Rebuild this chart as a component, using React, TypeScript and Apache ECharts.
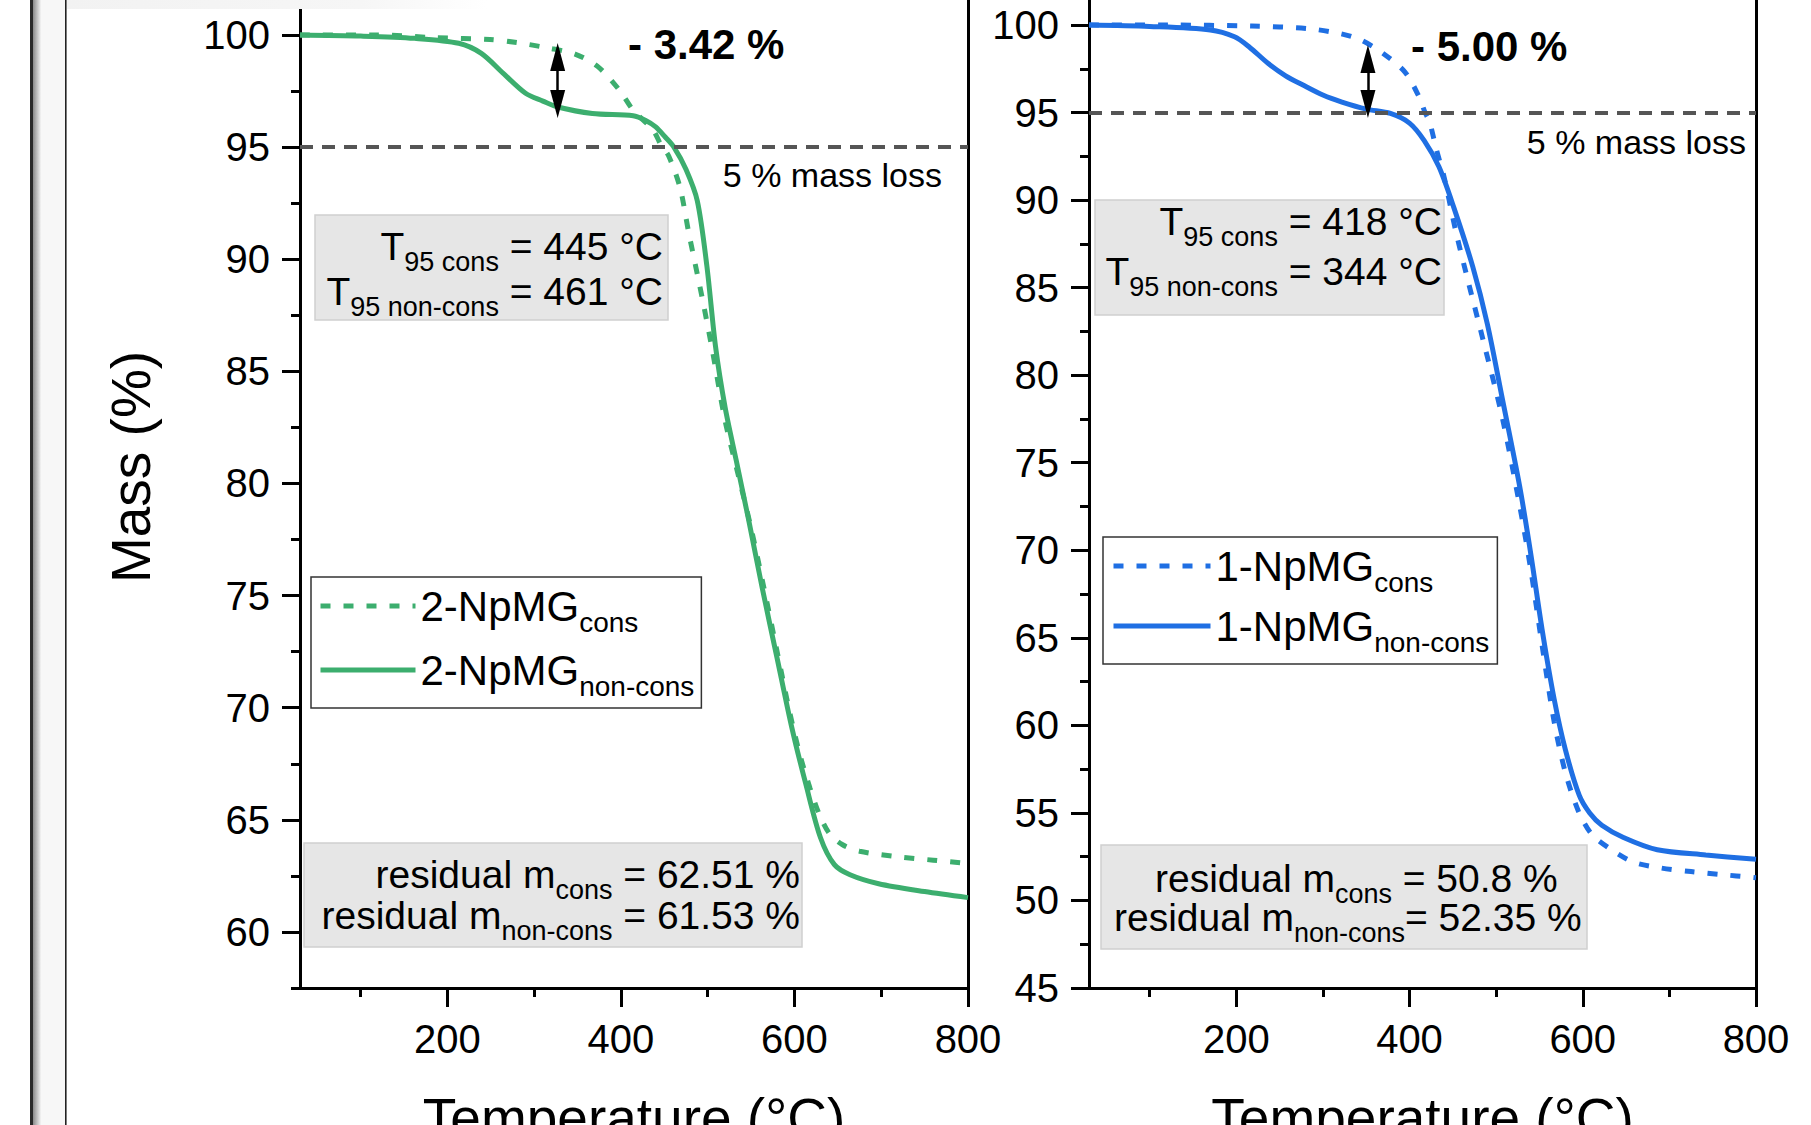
import React, { useEffect, useRef } from 'react';
import * as echarts from 'echarts';

const FONT = '"Liberation Sans", Arial, Helvetica, sans-serif';
const GREEN = '#3cae6e';
const BLUE = '#1f6fe3';

// ---- axes ----
const tempMin = 30;
const tempMax = 800;
const tempMajorTicks = [200, 400, 600, 800];
const tempMinorTicks = [100, 300, 500, 700];
const massLeftMin = 57.5;
const massLeftMax = 101.56;
const massLeftMajorTicks = [60, 65, 70, 75, 80, 85, 90, 95, 100];
const massLeftMinorTicks = [57.5, 62.5, 67.5, 72.5, 77.5, 82.5, 87.5, 92.5, 97.5];
const massRightMin = 45;
const massRightMax = 101.43;
const massRightMajorTicks = [45, 50, 55, 60, 65, 70, 75, 80, 85, 90, 95, 100];
const massRightMinorTicks = [47.5, 52.5, 57.5, 62.5, 67.5, 72.5, 77.5, 82.5, 87.5, 92.5, 97.5];
const massLossLevel = 95;

// ---- series: [temperature °C, mass %] ----
const npmg2Cons = [
  [30, 100.0], [118, 100.0], [187, 99.88], [249, 99.8], [280, 99.66], [316, 99.42], [347, 99.15],
  [373, 98.6], [398, 97.55], [414, 96.65], [437, 95.76], [446, 95.1], [455, 94.6], [468, 93.2],
  [478, 91.2], [494, 88.2], [505, 86.0], [520, 82.8], [535, 80.4], [550, 78.0], [565, 75.3],
  [580, 72.5], [595, 69.7], [607, 67.8], [618, 66.4], [628, 65.3], [640, 64.4], [655, 63.9],
  [675, 63.6], [720, 63.35], [760, 63.2], [800, 63.05],
];
const npmg2NonCons = [
  [30, 100.0], [100, 99.95], [162, 99.85], [213, 99.63], [239, 99.18], [264, 98.3], [290, 97.4],
  [310, 97.05], [326, 96.8], [367, 96.5], [414, 96.4], [428, 96.2], [440, 95.9], [451, 95.45],
  [461, 95.0], [475, 94.0], [488, 92.6], [499, 89.7], [509, 86.1], [520, 83.4], [533, 81.0],
  [547, 78.4], [563, 75.3], [580, 72.2], [597, 69.1], [613, 66.6], [630, 64.2], [646, 63.0],
  [664, 62.55], [697, 62.15], [750, 61.8], [800, 61.53],
];
const npmg1Cons = [
  [30, 100.0], [120, 100.0], [218, 99.94], [282, 99.8], [321, 99.5], [344, 99.14], [369, 98.4],
  [395, 97.3], [411, 95.9], [418, 95.0], [423, 94.5], [431, 92.9], [440, 91.3], [454, 88.1],
  [468, 85.3], [485, 82.0], [507, 77.6], [527, 72.6], [540, 68.9], [553, 64.6], [567, 60.2],
  [580, 57.3], [595, 55.1], [610, 53.8], [630, 53.0], [658, 52.2], [691, 51.85], [725, 51.65],
  [760, 51.48], [800, 51.3],
];
const npmg1NonCons = [
  [30, 100.0], [100, 99.92], [170, 99.72], [198, 99.33], [215, 98.75], [237, 97.8], [257, 97.1],
  [277, 96.57], [300, 96.0], [322, 95.6], [350, 95.2], [378, 94.95], [400, 94.4], [417, 93.4],
  [434, 91.9], [451, 89.6], [473, 86.2], [490, 82.9], [507, 78.7], [527, 73.7], [540, 69.8],
  [553, 65.5], [567, 61.5], [580, 58.6], [596, 56.0], [608, 55.0], [622, 54.3], [647, 53.6],
  [686, 52.9], [742, 52.6], [800, 52.35],
];

const seriesNames = ['2-NpMG cons', '2-NpMG non-cons', '1-NpMG cons', '1-NpMG non-cons'];

// ---- annotations ----
const diffLeft = { temp: 327, from: 99.02, to: 96.92, label: '- 3.42 %' };
const diffRight = { temp: 352, from: 98.06, to: 95.49, label: '- 5.00 %' };
const massLossLabel = '5 % mass loss';
const t95Left = ['445', '461'];
const t95Right = ['418', '344'];
const residualLeft = ['62.51', '61.53'];
const residualRight = ['50.8', '52.35'];

const NB = '\u00a0';

const axisLineStyle = { color: '#000', width: 3 };

function xAxes(gridIndex: number) {
  return [
    {
      type: 'value', gridIndex, min: tempMin, max: tempMax, position: 'bottom',
      axisLine: { show: true, onZero: false, lineStyle: axisLineStyle },
      axisTick: { show: true, customValues: tempMajorTicks, length: 19, lineStyle: axisLineStyle },
      axisLabel: { show: true, customValues: tempMajorTicks, margin: 31, fontSize: 40, color: '#000', fontFamily: FONT },
      splitLine: { show: false },
      name: 'Temperature (°C)', nameLocation: 'middle', nameGap: 102,
      nameTextStyle: { fontSize: 55, color: '#000', fontFamily: FONT },
    },
    {
      type: 'value', gridIndex, min: tempMin, max: tempMax, position: 'bottom',
      axisLine: { show: false, onZero: false },
      axisTick: { show: true, customValues: tempMinorTicks, length: 9, lineStyle: axisLineStyle },
      axisLabel: { show: false },
      splitLine: { show: false },
    },
  ];
}

function yAxes(gridIndex: number, min: number, max: number, major: number[], minor: number[]) {
  return [
    {
      type: 'value', gridIndex, min, max, position: 'left',
      axisLine: { show: true, onZero: false, lineStyle: axisLineStyle },
      axisTick: { show: true, customValues: major, length: 18, lineStyle: axisLineStyle },
      axisLabel: { show: true, customValues: major, margin: 30, fontSize: 40, color: '#000', fontFamily: FONT },
      splitLine: { show: false },
    },
    {
      type: 'value', gridIndex, min, max, position: 'left',
      axisLine: { show: false, onZero: false },
      axisTick: { show: true, customValues: minor, length: 9, lineStyle: axisLineStyle },
      axisLabel: { show: false },
      splitLine: { show: false },
    },
    {
      type: 'value', gridIndex, min, max, position: 'right',
      axisLine: { show: true, onZero: false, lineStyle: axisLineStyle },
      axisTick: { show: false },
      axisLabel: { show: false },
      splitLine: { show: false },
    },
  ];
}

function lineSeries(name: string, data: number[][], color: string, dashed: boolean, xi: number, yi: number, extra: any) {
  return {
    name, type: 'line', xAxisIndex: xi, yAxisIndex: yi, data,
    showSymbol: false, symbol: 'none', smooth: 0.3,
    lineStyle: { color, width: 5, type: dashed ? [10, 13] : 'solid', cap: 'butt' },
    itemStyle: { color },
    emphasis: { disabled: true },
    z: dashed ? 2 : 3,
    ...extra,
  };
}

function massLossLine() {
  return {
    markLine: {
      silent: true, symbol: ['none', 'none'], label: { show: false },
      lineStyle: { color: '#555555', width: 4, type: [13, 9] },
      emphasis: { disabled: true },
      data: [{ yAxis: massLossLevel }],
    },
  };
}

function diffArrow(d: { temp: number; from: number; to: number }) {
  return {
    markLine: {
      silent: true, symbol: ['triangle', 'triangle'], symbolSize: [15, 28], label: { show: false },
      lineStyle: { color: '#000', width: 2.5, type: 'solid' },
      emphasis: { disabled: true },
      data: [[{ coord: [d.temp, d.from] }, { coord: [d.temp, d.to] }]],
    },
  };
}

const legendRich = {
  m: { fontSize: 42, fontFamily: FONT, color: '#000', lineHeight: 44 },
  s: { fontSize: 28, fontFamily: FONT, color: '#000', lineHeight: 12, height: 12, verticalAlign: 'bottom' },
};

function legendFormatter(name: string) {
  const i = name.indexOf(' ');
  return `{m|${name.slice(0, i)}}{s|${name.slice(i + 1)}}`;
}

const BOX_RICH = {
  m: { fontSize: 39, fontFamily: FONT, fill: '#000', lineHeight: 46 },
  s: { fontSize: 27, fontFamily: FONT, fill: '#000', lineHeight: 16, height: 16, verticalAlign: 'bottom' },
};

function richLine(x: number, baseline: number, align: string, text: string) {
  return {
    type: 'text', x, y: baseline - 13.5, z: 20,
    style: {
      text, rich: BOX_RICH, fill: '#000',
      align, verticalAlign: 'middle', textAlign: align, textVerticalAlign: 'middle',
    },
  };
}

function box(x: number, y: number, w: number, h: number) {
  return {
    type: 'rect', z: 15, shape: { x, y, width: w, height: h },
    style: { fill: '#e6e6e6', stroke: '#d0d0d0', lineWidth: 1.5 },
  };
}

function plainText(x: number, y: number, text: string, font: string, align: string) {
  return {
    type: 'text', x, y, z: 20,
    style: { text, font, fill: '#000', align, verticalAlign: 'middle', textAlign: align, textVerticalAlign: 'middle' },
  };
}

const legendCommon = {
  orient: 'vertical', itemHeight: 1,
  borderColor: '#333', borderWidth: 1.5, backgroundColor: '#fff', borderRadius: 0,
  selectedMode: false, formatter: legendFormatter,
  textStyle: { rich: legendRich, color: '#000' },
  lineStyle: { width: 5 },
};

const option: any = {
  animation: false,
  backgroundColor: '#ffffff',
  textStyle: { fontFamily: FONT },
  grid: [
    { left: 300, right: 843, top: 0, bottom: 137, containLabel: false, outerBoundsMode: 'none' },
    { left: 1089, right: 55, top: 0, bottom: 137, containLabel: false, outerBoundsMode: 'none' },
  ],
  xAxis: [...xAxes(0), ...xAxes(1)],
  yAxis: [
    ...yAxes(0, massLeftMin, massLeftMax, massLeftMajorTicks, massLeftMinorTicks),
    ...yAxes(1, massRightMin, massRightMax, massRightMajorTicks, massRightMinorTicks),
  ],
  legend: [
    {
      ...legendCommon,
      data: [seriesNames[0], seriesNames[1]], left: 311, top: 577,
      itemWidth: 95, itemGap: 13, padding: [8, 7, 8, 7],
    },
    {
      ...legendCommon,
      data: [seriesNames[2], seriesNames[3]], left: 1103, top: 537,
      itemWidth: 97, itemGap: 9, padding: [8, 8, 8, 8],
    },
  ],
  series: [
    lineSeries(seriesNames[0], npmg2Cons, GREEN, true, 0, 0, massLossLine()),
    lineSeries(seriesNames[1], npmg2NonCons, GREEN, false, 0, 0, diffArrow(diffLeft)),
    lineSeries(seriesNames[2], npmg1Cons, BLUE, true, 2, 3, massLossLine()),
    lineSeries(seriesNames[3], npmg1NonCons, BLUE, false, 2, 3, diffArrow(diffRight)),
  ],
  graphic: {
    elements: [
      // window-edge decoration on the far left
      { type: 'rect', z: 1, shape: { x: 30, y: 0, width: 3, height: 1125 }, style: { fill: '#2a2a2a' } },
      {
        type: 'rect', z: 1, shape: { x: 33, y: 0, width: 8, height: 1125 },
        style: { fill: new echarts.graphic.LinearGradient(0, 0, 1, 0, [{ offset: 0, color: '#8a8a8a' }, { offset: 1, color: '#f4f4f4' }]) },
      },
      { type: 'rect', z: 1, shape: { x: 41, y: 0, width: 24, height: 1125 }, style: { fill: '#f7f7f7' } },
      { type: 'rect', z: 1, shape: { x: 65, y: 0, width: 1.6, height: 1125 }, style: { fill: '#222' } },
      {
        type: 'rect', z: 1, shape: { x: 67, y: 0, width: 420, height: 9 },
        style: { fill: new echarts.graphic.LinearGradient(0, 0, 1, 0, [{ offset: 0, color: '#f2f2f2' }, { offset: 0.7, color: '#f6f6f6' }, { offset: 1, color: '#ffffff' }]) },
      },
      // y axis title
      {
        type: 'text', x: 131, y: 467, rotation: Math.PI / 2, z: 20,
        style: { text: 'Mass (%)', font: `55px ${FONT}`, fill: '#000', align: 'center', verticalAlign: 'middle', textAlign: 'center', textVerticalAlign: 'middle' },
      },
      // difference labels
      plainText(628, 44.5, diffLeft.label, `bold 42px ${FONT}`, 'left'),
      plainText(1411, 46.5, diffRight.label, `bold 42px ${FONT}`, 'left'),
      // 5 % mass loss labels
      plainText(942, 174.5, massLossLabel, `34px ${FONT}`, 'right'),
      plainText(1746, 141.5, massLossLabel, `34px ${FONT}`, 'right'),
      // left panel boxes
      box(315, 215, 353, 105),
      richLine(663, 260, 'right', `{m|T}{s|95 cons}{m|${NB}= ${t95Left[0]} °C}`),
      richLine(663, 305, 'right', `{m|T}{s|95 non-cons}{m|${NB}= ${t95Left[1]} °C}`),
      box(304, 843, 498, 104),
      richLine(800, 888, 'right', `{m|residual m}{s|cons}{m|${NB}= ${residualLeft[0]} %}`),
      richLine(800, 929, 'right', `{m|residual m}{s|non-cons}{m|${NB}= ${residualLeft[1]} %}`),
      // right panel boxes
      box(1095, 200, 349, 115),
      richLine(1442, 235, 'right', `{m|T}{s|95 cons}{m|${NB}= ${t95Right[0]} °C}`),
      richLine(1442, 285, 'right', `{m|T}{s|95 non-cons}{m|${NB}= ${t95Right[1]} °C}`),
      box(1101, 845, 486, 104),
      richLine(1155, 892, 'left', `{m|residual m}{s|cons}{m|${NB}= ${residualRight[0]} %}`),
      richLine(1114, 931, 'left', `{m|residual m}{s|non-cons}{m|= ${residualRight[1]} %}`),
    ],
  },
};

export default function App() {
  const ref = useRef<HTMLDivElement>(null);
  useEffect(() => {
    if (!ref.current) return;
    const chart = echarts.init(ref.current, null, { renderer: 'svg' });
    chart.setOption(option);
    return () => chart.dispose();
  }, []);
  return (
    <div
      ref={ref}
      style={{ position: 'absolute', left: 0, top: 0, width: 1811, height: 1125, background: '#fff' }}
    />
  );
}
